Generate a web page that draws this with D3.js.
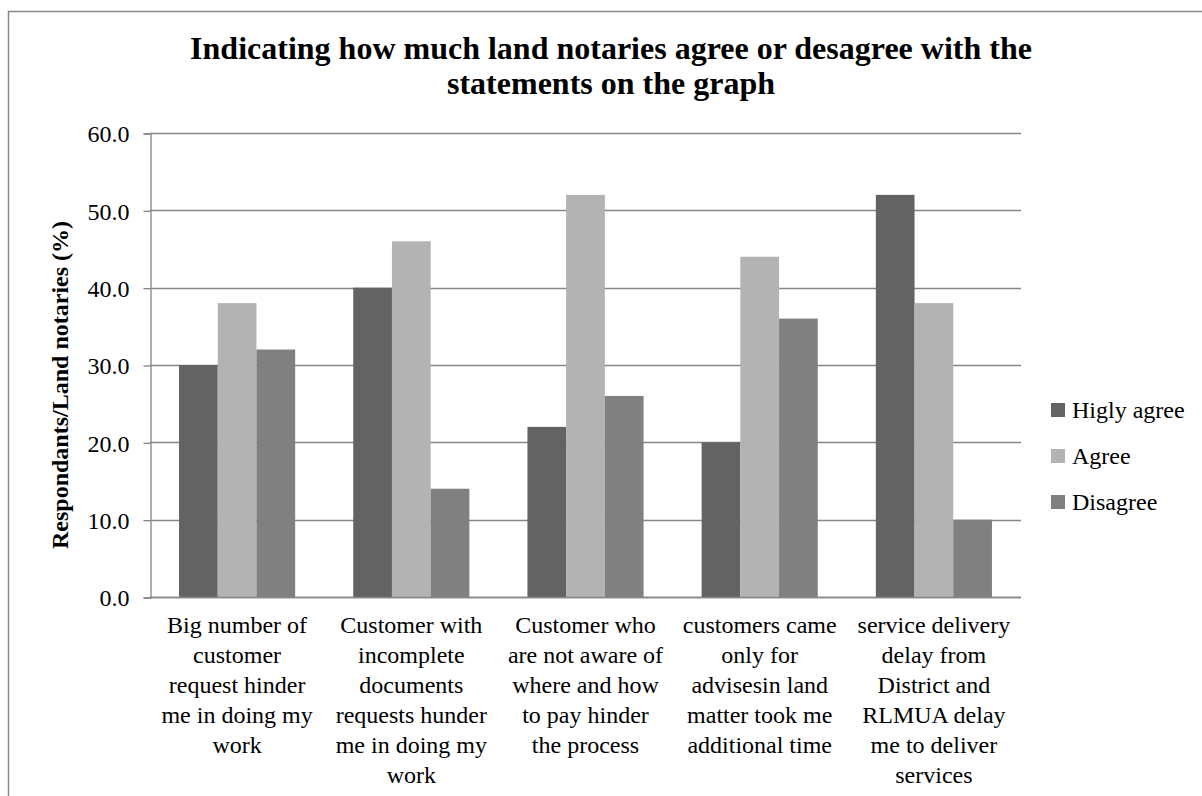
<!DOCTYPE html>
<html>
<head>
<meta charset="utf-8">
<script src="https://cdn.jsdelivr.net/npm/d3@7"></script>
<style>
  html, body { margin: 0; padding: 0; background: #fff; }
  svg { display: block; }
  svg text { font-family: "Liberation Serif", "Times New Roman", Times, "Nimbus Roman", "DejaVu Serif", serif; fill: #000; }
</style>
</head>
<body>
<svg id="chart" width="1202" height="796"></svg>
<script>
// Survey statements (category axis), line breaks as drawn under each group
const categories = [
  "Big number of\ncustomer\nrequest hinder\nme in doing my\nwork",
  "Customer with\nincomplete\ndocuments\nrequests hunder\nme in doing my\nwork",
  "Customer who\nare not aware of\nwhere and how\nto pay hinder\nthe process",
  "customers came\nonly for\nadvisesin land\nmatter took me\nadditional time",
  "service delivery\ndelay from\nDistrict and\nRLMUA delay\nme to deliver\nservices"
];

const seriesNames = ["Higly agree", "Agree", "Disagree"];

// Share of respondents (%) per statement
const higlyAgree = [30, 40, 22, 20, 52];
const agree      = [38, 46, 52, 44, 38];
const disagree   = [32, 14, 26, 36, 10];

const yTicks = [0, 10, 20, 30, 40, 50, 60];

const titleLines = [
  "Indicating how much land notaries agree or desagree with the",
  "statements on the graph"
];
const yAxisTitle = "Respondants/Land notaries (%)";

const seriesValues = [higlyAgree, agree, disagree];
const colors = ["#636363", "#b3b3b3", "#808080"];
const axisColor = "#868686";
const serif = '"Liberation Serif", "Times New Roman", Times, "Nimbus Roman", "DejaVu Serif", serif';

const svg = d3.select("#chart");

// Outer chart frame (extends past the right and bottom edges)
svg.append("rect")
  .attr("x", 8.5).attr("y", 11.5)
  .attr("width", 1200).attr("height", 800)
  .attr("fill", "none")
  .attr("stroke", axisColor)
  .attr("stroke-width", 1.5);

const plot = { left: 150, right: 1021, top: 133, bottom: 597 };

const x0 = d3.scaleBand()
  .domain(d3.range(categories.length))
  .range([plot.left, plot.right])
  .paddingInner(0)
  .paddingOuter(0);

// Gap width of 150%: three bars + 1.5 bar-widths of gap per category
const x1 = d3.scaleBand()
  .domain(d3.range(seriesNames.length))
  .range([0, x0.bandwidth()])
  .paddingInner(0)
  .paddingOuter(0.75);

const y = d3.scaleLinear()
  .domain([0, 60])
  .range([plot.bottom, plot.top]);

// Horizontal gridlines
svg.append("g")
  .selectAll("line")
  .data(yTicks)
  .join("line")
  .attr("x1", plot.left).attr("x2", plot.right)
  .attr("y1", d => Math.round(y(d)) + 0.5)
  .attr("y2", d => Math.round(y(d)) + 0.5)
  .attr("stroke", axisColor)
  .attr("stroke-width", 1.3);

// Value axis with outward ticks
const yAxis = d3.axisLeft(y)
  .tickValues(yTicks)
  .tickFormat(d3.format(".1f"))
  .tickSize(7)
  .tickPadding(14);

const yg = svg.append("g")
  .attr("transform", `translate(${plot.left + 0.5},0.5)`)
  .call(yAxis)
  .attr("font-family", serif);
yg.select(".domain").attr("stroke", axisColor).attr("stroke-width", 1.3);
yg.selectAll(".tick line").attr("stroke", axisColor).attr("stroke-width", 1.3);
yg.selectAll(".tick text")
  .style("font-family", serif)
  .attr("font-size", 24)
  .attr("fill", "#000")
  .attr("dy", "0.34em");

// Bars
const groups = svg.append("g")
  .selectAll("g")
  .data(categories.map((c, i) => i))
  .join("g")
  .attr("transform", i => `translate(${x0(i)},0)`);

groups.selectAll("rect")
  .data(i => seriesValues.map((vals, s) => ({ s, v: vals[i] })))
  .join("rect")
  .attr("x", d => x1(d.s))
  .attr("width", x1.bandwidth())
  .attr("y", d => y(d.v))
  .attr("height", d => y(0) - y(d.v))
  .attr("fill", d => colors[d.s]);

// Redraw the baseline over the bars
svg.append("line")
  .attr("x1", plot.left).attr("x2", plot.right)
  .attr("y1", Math.round(y(0)) + 0.5).attr("y2", Math.round(y(0)) + 0.5)
  .attr("stroke", axisColor).attr("stroke-width", 1.3);

// Category axis labels, centred under each group
const xAxis = d3.axisBottom(x0)
  .tickSize(0)
  .tickFormat(i => categories[i]);

const xg = svg.append("g")
  .attr("transform", `translate(0,${plot.bottom})`)
  .call(xAxis)
  .attr("font-family", serif);
xg.select(".domain").remove();
xg.selectAll(".tick text").each(function(i) {
  const t = d3.select(this);
  const lines = categories[i].split("\n");
  t.text(null)
    .style("font-family", serif)
    .attr("font-size", 24)
    .attr("fill", "#000")
    .attr("text-anchor", "middle")
    .attr("y", 0)
    .attr("dy", null);
  lines.forEach((ln, k) => {
    t.append("tspan")
      .attr("x", 0)
      .attr("y", 36 + k * 30)
      .text(ln);
  });
});

// Title
svg.append("text")
  .attr("text-anchor", "middle")
  .attr("font-size", 32)
  .attr("font-weight", "bold")
  .selectAll("tspan")
  .data(titleLines)
  .join("tspan")
  .attr("x", 611)
  .attr("y", (d, k) => 59 + k * 35)
  .text(d => d);

// Value axis title
svg.append("text")
  .attr("transform", "translate(68,385) rotate(-90)")
  .attr("text-anchor", "middle")
  .attr("font-size", 24)
  .attr("font-weight", "bold")
  .text(yAxisTitle);

// Legend
const legend = svg.append("g")
  .selectAll("g")
  .data(seriesNames)
  .join("g")
  .attr("transform", (d, k) => `translate(1051,${410 + k * 46})`);

legend.append("rect")
  .attr("x", 0).attr("y", -7)
  .attr("width", 14).attr("height", 14)
  .attr("fill", (d, k) => colors[k]);

legend.append("text")
  .attr("x", 21)
  .attr("dy", "0.34em")
  .attr("font-size", 24)
  .text(d => d);
</script>
</body>
</html>
